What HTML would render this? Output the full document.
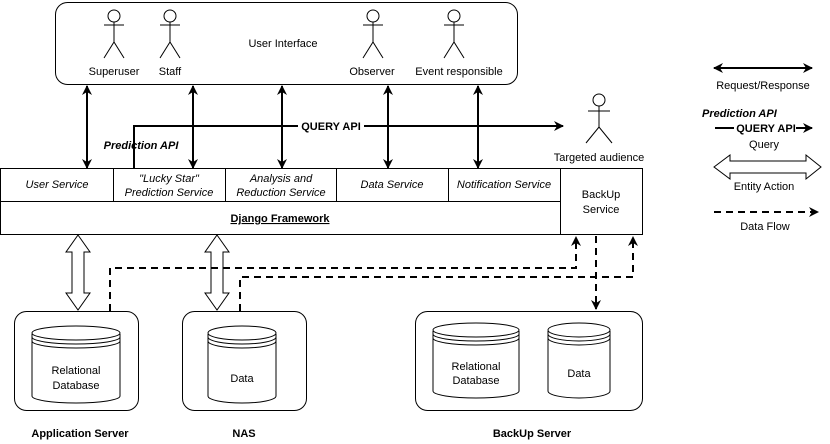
<!DOCTYPE html>
<html><head><meta charset="utf-8"><style>
html,body{margin:0;padding:0;background:#fff}
svg{display:block}
text{font-family:"Liberation Sans",sans-serif;font-size:11px;fill:#000}
</style></head><body>
<svg width="830" height="444" viewBox="0 0 830 444" xmlns="http://www.w3.org/2000/svg">
<defs>
<marker id="a2" viewBox="0 0 10 10" refX="9" refY="5" markerWidth="10" markerHeight="10" orient="auto-start-reverse" markerUnits="userSpaceOnUse"><path d="M0,0 L10,5 L0,10 L3,5 z" fill="#000"/></marker>
</defs>
<rect x="55.5" y="2.5" width="462" height="82" rx="12" fill="#fff" stroke="#000"/>
<text x="283" y="47" text-anchor="middle">User Interface</text>
<g fill="none" stroke="#000">
 <g transform="translate(114,0)"><circle cx="0" cy="16" r="6"/><path d="M0,22 V42 M-10,25 H10 M0,42 L-10,58 M0,42 L10,58"/></g>
 <g transform="translate(170,0)"><circle cx="0" cy="16" r="6"/><path d="M0,22 V42 M-10,25 H10 M0,42 L-10,58 M0,42 L10,58"/></g>
 <g transform="translate(373,0)"><circle cx="0" cy="16" r="6"/><path d="M0,22 V42 M-10,25 H10 M0,42 L-10,58 M0,42 L10,58"/></g>
 <g transform="translate(454,0)"><circle cx="0" cy="16" r="6"/><path d="M0,22 V42 M-10,25 H10 M0,42 L-10,58 M0,42 L10,58"/></g>
 <g transform="translate(599,0)"><circle cx="0" cy="100" r="6"/><path d="M0,106 V127 M-11,111 H11 M0,127 L-13,143 M0,127 L13,143"/></g>
</g>
<text x="114" y="75" text-anchor="middle">Superuser</text>
<text x="170" y="75" text-anchor="middle">Staff</text>
<text x="372" y="75" text-anchor="middle">Observer</text>
<text x="459" y="75" text-anchor="middle">Event responsible</text>
<text x="599" y="161" text-anchor="middle">Targeted audience</text>
<g stroke="#000" stroke-width="2" marker-start="url(#a2)" marker-end="url(#a2)">
<line x1="87" y1="86" x2="87" y2="168"/>
<line x1="193" y1="86" x2="193" y2="168"/>
<line x1="282" y1="86" x2="282" y2="168"/>
<line x1="388" y1="86" x2="388" y2="168"/>
<line x1="478" y1="86" x2="478" y2="168"/>
</g>
<path d="M134,168 V126 H563" fill="none" stroke="#000" stroke-width="2" marker-end="url(#a2)"/>
<rect x="298" y="119" width="66" height="13" fill="#fff"/>
<text x="331" y="130" text-anchor="middle" font-weight="bold">QUERY API</text>
<text x="141" y="149" text-anchor="middle" font-weight="bold" font-style="italic">Prediction API</text>
<g fill="#fff" stroke="#000">
<rect x="0.5" y="168.5" width="560" height="66"/>
<line x1="0" y1="201.5" x2="560" y2="201.5"/>
<line x1="113.5" y1="168" x2="113.5" y2="201"/>
<line x1="225.5" y1="168" x2="225.5" y2="201"/>
<line x1="336.5" y1="168" x2="336.5" y2="201"/>
<line x1="448.5" y1="168" x2="448.5" y2="201"/>
<rect x="560.5" y="168.5" width="82" height="66"/>
</g>
<text x="57" y="188" text-anchor="middle" font-style="italic">User Service</text>
<text x="169" y="182" text-anchor="middle" font-style="italic">"Lucky Star"</text>
<text x="169" y="196" text-anchor="middle" font-style="italic">Prediction Service</text>
<text x="281" y="182" text-anchor="middle" font-style="italic">Analysis and</text>
<text x="281" y="196" text-anchor="middle" font-style="italic">Reduction Service</text>
<text x="392" y="188" text-anchor="middle" font-style="italic">Data Service</text>
<text x="504" y="188" text-anchor="middle" font-style="italic">Notification Service</text>
<text x="280" y="222" text-anchor="middle" font-weight="bold" text-decoration="underline">Django Framework</text>
<text x="601" y="198" text-anchor="middle">BackUp</text>
<text x="601" y="213" text-anchor="middle">Service</text>
<g fill="#fff" stroke="#000">
<path d="M78,235 L90,252 H84 V293 H90 L78,310 L66,293 H72 V252 H66 Z"/>
<path d="M217,235 L229,252 H223 V293 H229 L217,310 L205,293 H211 V252 H205 Z"/>
</g>
<g fill="none" stroke="#000" stroke-width="2" stroke-dasharray="7,5">
<path d="M110,311 V268 H576 V237" marker-end="url(#a2)"/>
<path d="M240,311 V277 H633 V237" marker-end="url(#a2)"/>
<path d="M596,236 V309" marker-end="url(#a2)"/>
</g>
<g fill="#fff" stroke="#000">
<rect x="14.5" y="311.5" width="124" height="99" rx="12"/>
<rect x="182.5" y="311.5" width="124" height="99" rx="12"/>
<rect x="415.5" y="311.5" width="227" height="99" rx="12"/>
</g>
<g fill="#fff" stroke="#000">
<g transform="translate(32,326)"><path d="M0,8 V70 A44,7 0 0 0 88,70 V8"/><ellipse cx="44" cy="7" rx="44" ry="7"/><path d="M0,11 A44,7 0 0 0 88,11 M0,15 A44,7 0 0 0 88,15" fill="none"/></g>
<g transform="translate(208,326)"><path d="M0,8 V70 A34,7 0 0 0 68,70 V8"/><ellipse cx="34" cy="7" rx="34" ry="7"/><path d="M0,11 A34,7 0 0 0 68,11 M0,15 A34,7 0 0 0 68,15" fill="none"/></g>
<g transform="translate(433,323)"><path d="M0,8 V68 A43,7 0 0 0 86,68 V8"/><ellipse cx="43" cy="7" rx="43" ry="7"/><path d="M0,11 A43,7 0 0 0 86,11 M0,15 A43,7 0 0 0 86,15" fill="none"/></g>
<g transform="translate(548,323)"><path d="M0,8 V68 A31,7 0 0 0 62,68 V8"/><ellipse cx="31" cy="7" rx="31" ry="7"/><path d="M0,11 A31,7 0 0 0 62,11 M0,15 A31,7 0 0 0 62,15" fill="none"/></g>
</g>
<text x="76" y="374" text-anchor="middle">Relational</text>
<text x="76" y="389" text-anchor="middle">Database</text>
<text x="242" y="382" text-anchor="middle">Data</text>
<text x="476" y="370" text-anchor="middle">Relational</text>
<text x="476" y="384" text-anchor="middle">Database</text>
<text x="579" y="377" text-anchor="middle">Data</text>
<text x="80" y="437" text-anchor="middle" font-weight="bold">Application Server</text>
<text x="244" y="437" text-anchor="middle" font-weight="bold">NAS</text>
<text x="532" y="437" text-anchor="middle" font-weight="bold">BackUp Server</text>
<line x1="714" y1="68" x2="812" y2="68" stroke="#000" stroke-width="2" marker-start="url(#a2)" marker-end="url(#a2)"/>
<text x="763" y="89" text-anchor="middle">Request/Response</text>
<text x="702" y="117" font-weight="bold" font-style="italic">Prediction API</text>
<line x1="715" y1="128" x2="812" y2="128" stroke="#000" stroke-width="2" marker-end="url(#a2)"/>
<rect x="734" y="122" width="62" height="12" fill="#fff"/>
<text x="766" y="132" text-anchor="middle" font-weight="bold">QUERY API</text>
<text x="764" y="148" text-anchor="middle">Query</text>
<path d="M714,167 L730,155 V161 H806 V155 L821,167 L806,179 V173 H730 V179 Z" fill="#fff" stroke="#000"/>
<text x="764" y="190" text-anchor="middle">Entity Action</text>
<line x1="714" y1="212" x2="818" y2="212" stroke="#000" stroke-width="2" stroke-dasharray="7,5" marker-end="url(#a2)"/>
<text x="765" y="230" text-anchor="middle">Data Flow</text>
</svg>
</body></html>
